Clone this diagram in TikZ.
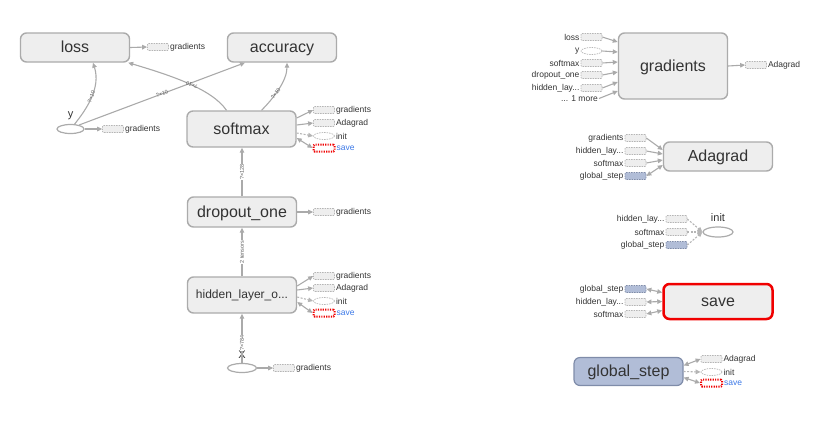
\documentclass[tikz,border=0pt]{standalone}
\usepackage{fontspec}
\setmainfont{Liberation Sans}
\usetikzlibrary{shapes.geometric,arrows.meta,calc,positioning}
\definecolor{tfbox}{HTML}{EEEEEE}
\definecolor{tfline}{HTML}{ABABAB}
\definecolor{tfedge}{HTML}{AAAAAA}
\definecolor{tfstub}{HTML}{B5B5B5}
\definecolor{tfblue}{HTML}{B1BDD7}
\definecolor{tfblueline}{HTML}{7F8CA9}
\definecolor{tfred}{HTML}{F00000}
\definecolor{tflink}{HTML}{3B78E7}
\definecolor{tftext}{HTML}{333333}

\begin{document}
\begin{tikzpicture}[x=1pt,y=-1pt,
		op/.style={draw=tfline,fill=tfbox,line width=1.4pt,rounded corners=6pt,font=\fontsize{16}{18}\selectfont,text=tftext,minimum width=109pt,minimum height=29pt,inner sep=0pt,text height=13pt,text depth=3pt},
		tall/.style={minimum height=36pt},
		ph/.style={ellipse,draw=tfline,fill=white,line width=1.2pt,minimum width=28pt,minimum height=9pt,inner sep=0pt},
		stub/.style={draw=tfstub,fill=tfbox,dashed,dash pattern=on 1.5pt off 1pt,line width=0.7pt,minimum width=21pt,minimum height=7pt,inner sep=0pt,rounded corners=1pt},
		stubph/.style={stub,ellipse,fill=white},
		stubvar/.style={stub,draw=tfblueline,fill=tfblue},
		stubsave/.style={stub,draw=tfred,fill=white,line width=2pt,dash pattern=on 1.2pt off 1.2pt},
		txt/.style={font=\fontsize{8.5}{10}\selectfont,text=tftext,inner sep=1pt},
		bigtxt/.style={font=\fontsize{11}{12}\selectfont,text=tftext,inner sep=1pt},
		savetxt/.style={txt,text=tflink},
		flow/.style={draw=tfedge,line width=1.1pt,-{Triangle[length=5pt,width=4.5pt]}},
		flowboth/.style={flow,{Triangle[length=5pt,width=4.5pt]}-{Triangle[length=5pt,width=4.5pt]}},
		ctrlflow/.style={flow,draw=tfstub,dash pattern=on 2pt off 1.5pt},
		elabel/.style={font=\fontsize{5.5}{6}\selectfont,text=tfedge!55!black,sloped,inner sep=0.5pt}]
	\useasboundingbox (0,0) rectangle (837,424);
	
	\node[op] (loss) at (75,47.5) {loss};
	\node[op] (accuracy) at (282,47.5) {accuracy};
	\node[ph,minimum width=27pt] (y) at (70.5,129) {};
	\node[bigtxt] (ytxt) at (70.5,116) {y};
	\node[op,tall] (softmax) at (241.5,129) {softmax};
	\node[op,minimum height=30pt] (dropout) at (242,212) {dropout\_one};
	\node[op,tall,font=\fontsize{12}{14}\selectfont,text height=10pt,text depth=2.5pt] (hidden) at (242,295) {hidden\_layer\_o...};
	\node[ph,minimum width=29pt] (X) at (242,368) {};
	\node[bigtxt] (Xtxt) at (242,355) {X};
	
	\node[stub] (lossG) at (158,47) {};
	\node[txt,anchor=west] (lossGt) at (lossG.east) {gradients};
	\node[stub] (yG) at (113,129) {};
	\node[txt,anchor=west] (yGt) at (yG.east) {gradients};
	\node[stub] (smG) at (324,110) {};
	\node[txt,anchor=west] (smGt) at (smG.east) {gradients};
	\node[stub] (smA) at (324,123) {};
	\node[txt,anchor=west] (smAt) at (smA.east) {Adagrad};
	\node[stubph] (smI) at (324,136) {};
	\node[txt,anchor=west] (smIt) at (smI.east) {init};
	\node[stubsave] (smS) at (324,148) {};
	\node[savetxt,anchor=west] (smSt) at (smS.east) {save};
	\node[stub] (doG) at (324,212) {};
	\node[txt,anchor=west] (doGt) at (doG.east) {gradients};
	\node[stub] (hlG) at (324,276) {};
	\node[txt,anchor=west] (hlGt) at (hlG.east) {gradients};
	\node[stub] (hlA) at (324,288) {};
	\node[txt,anchor=west] (hlAt) at (hlA.east) {Adagrad};
	\node[stubph] (hlI) at (324,301) {};
	\node[txt,anchor=west] (hlIt) at (hlI.east) {init};
	\node[stubsave] (hlS) at (324,313) {};
	\node[savetxt,anchor=west] (hlSt) at (hlS.east) {save};
	\node[stub] (XG) at (284,368) {};
	\node[txt,anchor=west] (XGt) at (XG.east) {gradients};
	
	\draw[flow] (loss.east) -- (lossG.west);
	\draw[flow] (y.east) -- (yG.west);
	\draw[flow] (y.50) .. controls +(12,-15) and +(8,25) .. node[elabel,pos=0.5] {?×10} ($(loss.south)+(18,0)$);
	\draw[flow] (y.25) -- node[elabel,pos=0.5] {?×10} ($(accuracy.south)+(-37,0)$);
	\draw[flow] ($(softmax.north)+(-15,0)$) .. controls +(-15,-22) and +(40,12) .. node[elabel,allow upside down,pos=0.45] {?×10} ($(loss.south east)+(-2,0)$);
	\draw[flow] ($(softmax.north)+(20,0)$) .. controls +(12,-12) and +(0,18) .. node[elabel,pos=0.4] {?×10} ($(accuracy.south)+(5,0)$);
	\draw[flow] (dropout.north) -- node[elabel,fill=white] {?×128} (dropout.north |- softmax.south);
	\draw[flow] (hidden.north) -- node[elabel,fill=white] {2 tensors} (dropout.south);
	\draw[flow] (X.north) -- node[elabel,fill=white,pos=0.4] {?×784} (hidden.south);
	\draw[flow] (X.east) -- (XG.west);
	
	\draw[flow] ($(softmax.east)+(0,-11)$) -- (smG.west);
	\draw[flow] ($(softmax.east)+(0,-4)$) -- (smA.west);
	\draw[ctrlflow] ($(softmax.east)+(0,4)$) -- (smI.west);
	\draw[flowboth] ($(softmax.east)+(0,9)$) -- (smS.west);
	\draw[flow] (dropout.east) -- (doG.west);
	\draw[flow] ($(hidden.east)+(0,-9)$) -- (hlG.west);
	\draw[flow] ($(hidden.east)+(0,-5)$) -- (hlA.west);
	\draw[ctrlflow] ($(hidden.east)+(0,2)$) -- (hlI.west);
	\draw[flowboth] ($(hidden.east)+(0,7)$) -- (hlS.west);
	
	\node[op,minimum height=66pt] (grad) at (673,66) {gradients};
	\node[stub] (gLoss) at (591.5,37) {};
	\node[txt,anchor=east] (gLosst) at (gLoss.west) {loss};
	\node[stubph] (gY) at (591.5,51) {};
	\node[txt,anchor=east] (gYt) at (gY.west) {y};
	\node[stub] (gSm) at (591.5,63) {};
	\node[txt,anchor=east] (gSmt) at (gSm.west) {softmax};
	\node[stub] (gDo) at (591.5,75) {};
	\node[txt,anchor=east] (gDot) at (gDo.west) {dropout\_one};
	\node[stub] (gHl) at (591.5,88) {};
	\node[txt,anchor=east] (gHlt) at (gHl.west) {hidden\_lay...};
	\node[txt,anchor=east] (gMore) at (599,98.5) {... 1 more};
	\node[stub] (gOut) at (756,65) {};
	\node[txt,anchor=west] (gOutt) at (gOut.east) {Adagrad};
	
	\draw[flow] (gLoss.east) -- ($(grad.west)+(0,-24)$);
	\draw[flow] (gY.east) -- ($(grad.west)+(0,-14)$);
	\draw[flow] (gSm.east) -- ($(grad.west)+(0,-4)$);
	\draw[flow] (gDo.east) -- ($(grad.west)+(0,6)$);
	\draw[flow] (gHl.east) -- ($(grad.west)+(0,16)$);
	\draw[flow] (gMore.east) -- ($(grad.west)+(0,25)$);
	\draw[flow] (grad.east) -- (gOut.west);
	
	\node[op] (adagrad) at (718,156.5) {Adagrad};
	\node[stub] (aGr) at (635.5,138) {};
	\node[txt,anchor=east] (aGrt) at (aGr.west) {gradients};
	\node[stub] (aHl) at (635.5,151) {};
	\node[txt,anchor=east] (aHlt) at (aHl.west) {hidden\_lay...};
	\node[stub] (aSm) at (635.5,163) {};
	\node[txt,anchor=east] (aSmt) at (aSm.west) {softmax};
	\node[stubvar] (aGs) at (635.5,176) {};
	\node[txt,anchor=east] (aGst) at (aGs.west) {global\_step};
	
	\draw[flow] (aGr.east) -- ($(adagrad.west)+(0,-6.5)$);
	\draw[flow] (aHl.east) -- ($(adagrad.west)+(0,-2.5)$);
	\draw[flow] (aSm.east) -- ($(adagrad.west)+(0,3.5)$);
	\draw[flowboth] (aGs.east) -- ($(adagrad.west)+(0,8.5)$);
	
	\node[ph,minimum width=30pt,minimum height=10pt] (init) at (718,232) {};
	\node[bigtxt] (initt) at (718,218) {init};
	\node[stub] (iHl) at (676.5,219) {};
	\node[txt,anchor=east] (iHlt) at (iHl.west) {hidden\_lay...};
	\node[stub] (iSm) at (676.5,232) {};
	\node[txt,anchor=east] (iSmt) at (iSm.west) {softmax};
	\node[stubvar] (iGs) at (676.5,245) {};
	\node[txt,anchor=east] (iGst) at (iGs.west) {global\_step};
	
	\draw[ctrlflow] (iHl.east) -- (init.west);
	\draw[ctrlflow] (iSm.east) -- (init.west);
	\draw[ctrlflow] (iGs.east) -- (init.west);
	
	\node[op,draw=tfred,line width=2.5pt,minimum height=35pt] (save) at (718,301.5) {save};
	\node[stubvar] (sGs) at (635.5,289) {};
	\node[txt,anchor=east] (sGst) at (sGs.west) {global\_step};
	\node[stub] (sHl) at (635.5,302) {};
	\node[txt,anchor=east] (sHlt) at (sHl.west) {hidden\_lay...};
	\node[stub] (sSm) at (635.5,314) {};
	\node[txt,anchor=east] (sSmt) at (sSm.west) {softmax};
	
	\draw[flowboth] (sGs.east) -- ($(save.west)+(0,-9)$);
	\draw[flowboth] (sHl.east) -- (save.west);
	\draw[flowboth] (sSm.east) -- ($(save.west)+(0,9)$);
	
	\node[op,draw=tfblueline,fill=tfblue,line width=1.2pt,minimum height=28pt] (gstep) at (628.5,371.5) {global\_step};
	\node[stub] (gsA) at (711.5,359) {};
	\node[txt,anchor=west] (gsAt) at (gsA.east) {Adagrad};
	\node[stubph] (gsI) at (711.5,372) {};
	\node[txt,anchor=west] (gsIt) at (gsI.east) {init};
	\node[stubsave] (gsS) at (711.5,383) {};
	\node[savetxt,anchor=west] (gsSt) at (gsS.east) {save};
	
	\draw[flowboth] ($(gstep.east)+(0,-6)$) -- (gsA.west);
	\draw[ctrlflow] (gstep.east) -- (gsI.west);
	\draw[flowboth] ($(gstep.east)+(0,6)$) -- (gsS.west);
\end{tikzpicture}
\end{document}
